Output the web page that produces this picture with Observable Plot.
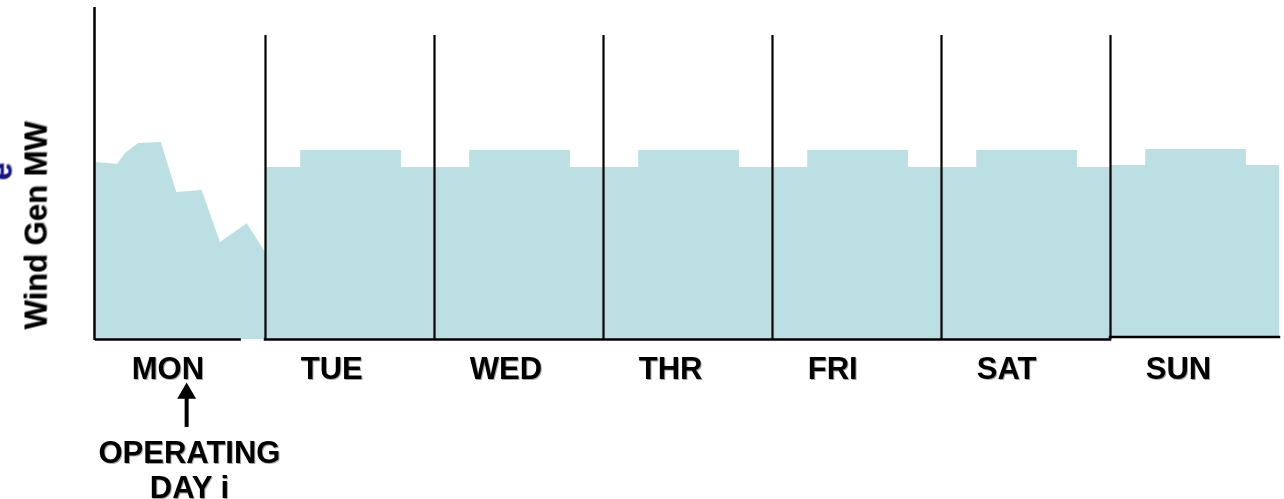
<!DOCTYPE html>
<html>
<head>
<meta charset="utf-8">
<script src="https://cdn.jsdelivr.net/npm/d3@7"></script>
<script src="https://cdn.jsdelivr.net/npm/@observablehq/plot@0.6"></script>
<style>
  html, body { margin: 0; padding: 0; background: #fff; }
  #chart svg text { filter: drop-shadow(1.5px 1.5px 0.6px rgba(0,0,0,0.35)); }
</style>
</head>
<body>
<div id="chart"></div>
<script>
// ---- data ----
const days = ["MON", "TUE", "WED", "THR", "FRI", "SAT", "SUN"];
// Monday (operating day i): actual wind generation, hour of day -> MW
const monHours = [0, 3, 4.1, 6, 9.2, 11.4, 15, 17.6, 21.4, 24];
const monMW = [53.3, 52.7, 56.0, 59.0, 59.3, 44.3, 44.9, 29.2, 34.9, 26.2];
// Following days: flat forecast profile (off-peak / on-peak blocks)
const offPeakMW = [null, 51.8, 51.8, 51.8, 51.8, 51.8, 52.4];
const onPeakMW = [null, 56.9, 56.9, 56.9, 56.9, 56.9, 57.2];
const floorMW = [0, 0, 0, 0, 0, 0, 0.75];
const peakStartHour = 5;
const peakEndHour = 19.3;
const mondayBaseEndHour = 20.4;
const boxTopMW = 91.6;
const yAxisLabel = "Wind Gen MW";
const titleFragment = "e";
const annotation = "OPERATING\nDAY i";
const annotationHour = 13.2;
const arrowHour = 12.8;

// ---- tables built from the arrays ----
const mon = monHours.map((h, i) => ({x: h, y: monMW[i]}));
const week = [];
for (let d = 1; d < days.length; d++) {
  const s = d * 24;
  week.push({x: s, y: offPeakMW[d], y1: floorMW[d]});
  week.push({x: s + peakStartHour, y: onPeakMW[d], y1: floorMW[d]});
  week.push({x: s + peakEndHour, y: offPeakMW[d], y1: floorMW[d]});
}
week.push({x: days.length * 24, y: offPeakMW[days.length - 1], y1: floorMW[days.length - 1]});
const boundaries = d3.range(1, days.length).map(d => d * 24);
const baselines = [
  {x1: 0, x2: mondayBaseEndHour, y: floorMW[0]},
  {x1: 24, x2: 144, y: floorMW[1]},
  {x1: 144, x2: 168, y: floorMW[6]}
];
const dayTicks = days.map((d, i) => i * 24 + peakStartHour);

const fill = "#bbdfe2";
const font = "Liberation Sans, Arial, sans-serif";

const chart = Plot.plot({
  width: 1284,
  height: 499,
  marginLeft: 96,
  marginRight: 5,
  marginTop: 7,
  marginBottom: 160,
  style: {fontFamily: font, background: "#fff", overflow: "visible"},
  x: {domain: [0, 168], axis: null},
  y: {domain: [0, 100], axis: null},
  marks: [
    Plot.areaY(mon, {x: "x", y: "y", fill, curve: "linear"}),
    Plot.area(week, {x1: "x", y1: "y1", y2: "y", fill, curve: "step-after"}),
    Plot.ruleX([0], {y1: -0.3, y2: 100, dx: -2, stroke: "#000", strokeWidth: 2.5}),
    Plot.ruleX(boundaries, {y1: 0, y2: boxTopMW, stroke: "#000", strokeWidth: 2.2}),
    Plot.ruleY(baselines, {x1: "x1", x2: "x2", y: "y", stroke: "#000", strokeWidth: 2.5, strokeLinecap: "square"}),
    Plot.axisX(dayTicks, {
      anchor: "bottom",
      tickSize: 0,
      tickPadding: 17,
      tickFormat: d => days[Math.floor(d / 24)],
      textAnchor: "start",
      fontSize: 31,
      fontWeight: "bold",
      fill: "#000",
      label: null
    }),
    Plot.text([yAxisLabel], {
      text: d => d, frameAnchor: "left", dx: -60, dy: 52, rotate: -90,
      textAnchor: "middle", lineAnchor: "middle",
      fontSize: 31, fontWeight: "bold", fill: "#000"
    }),
    Plot.text([titleFragment], {
      text: d => d, frameAnchor: "left", dx: -95, dy: -2, rotate: -90,
      textAnchor: "middle", lineAnchor: "middle",
      fontSize: 32, fontWeight: "bold", fill: "#14148c"
    }),
    Plot.ruleX([arrowHour], {y1: -26.5, y2: -16.5, stroke: "#000", strokeWidth: 4}),
    Plot.dot([arrowHour], {x: d => d, y: -16.2, symbol: "triangle", r: 7, fill: "#000", stroke: "none"}),
    Plot.text([annotation], {
      text: d => d, x: annotationHour, y: -29.8,
      textAnchor: "middle", lineAnchor: "top", lineHeight: 1.13,
      fontSize: 31, fontWeight: "bold", fill: "#000"
    })
  ]
});
document.getElementById("chart").appendChild(chart);
</script>
</body>
</html>
